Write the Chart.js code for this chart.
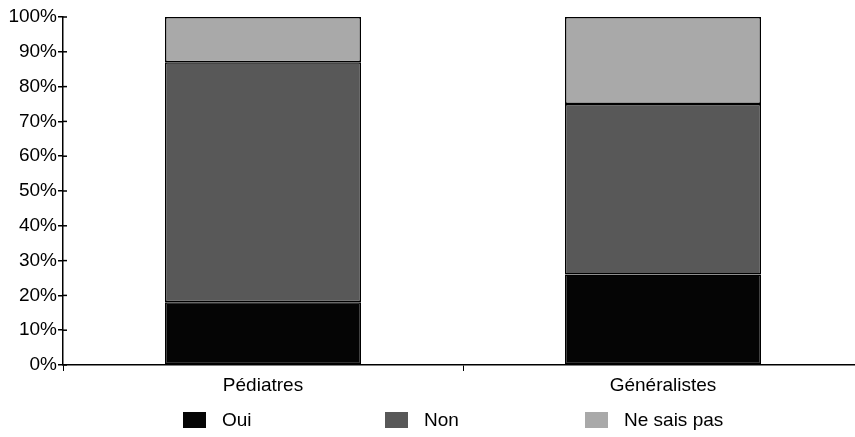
<!DOCTYPE html>
<html>
<head>
<meta charset="utf-8">
<script src="https://cdn.jsdelivr.net/npm/chart.js@4/dist/chart.umd.min.js"></script>
<style>
  html, body { margin: 0; padding: 0; background: #fff; overflow: hidden; width: 855px; height: 437px; }
  #wrap { position: relative; width: 863px; height: 437px; }
  #legend { position: absolute; left: 0; top: 409px; width: 863px; height: 22px; font-family: "Liberation Sans", Arial, sans-serif; font-size: 19px; color: #000; }
  .item { position: absolute; top: 0; height: 22px; line-height: 22px; white-space: nowrap; }
  .box { position: absolute; top: 3px; left: 0; width: 23px; height: 16px; }
  .txt { position: absolute; left: 39px; top: 0; }
</style>
</head>
<body>
<div id="wrap">
  <canvas id="chart" width="863" height="437"></canvas>
  <div id="legend"></div>
</div>
<script>
// data (percent)
const categories = ['Pédiatres', 'Généralistes']
const seriesNames = ['Oui', 'Non', 'Ne sais pas']
const oui = [18, 26]
const non = [69, 49]
const neSaisPas = [13, 25]
const yTicks = [0, 10, 20, 30, 40, 50, 60, 70, 80, 90, 100]

const colours = ['#050505', '#585858', '#a9a9a9']
const legendLeft = [183, 385, 585]

const font = { family: '"Liberation Sans", Arial, sans-serif', size: 19 }

function makeSet(label, data, i) {
  return {
    label: label,
    data: data,
    backgroundColor: colours[i],
    borderColor: '#000',
    borderWidth: 1.5,
    borderSkipped: false,
    barPercentage: 0.49,
    categoryPercentage: 1
  }
}

// small ticks on the inner side of the y axis too
const crossTicks = {
  id: 'crossTicks',
  afterDraw(c) {
    const y = c.scales.y
    const ctx = c.ctx
    ctx.save()
    ctx.strokeStyle = '#000'
    ctx.lineWidth = 1.5
    y.ticks.forEach(t => {
      const py = y.getPixelForValue(t.value)
      ctx.beginPath()
      ctx.moveTo(y.right, py)
      ctx.lineTo(y.right + 4, py)
      ctx.stroke()
    })
    ctx.restore()
  }
}

const chart = new Chart(document.getElementById('chart'), {
  type: 'bar',
  data: {
    labels: categories,
    datasets: [
      makeSet(seriesNames[0], oui, 0),
      makeSet(seriesNames[1], non, 1),
      makeSet(seriesNames[2], neSaisPas, 2)
    ]
  },
  plugins: [crossTicks],
  options: {
    responsive: false,
    animation: false,
    devicePixelRatio: 1,
    layout: { autoPadding: false, padding: { top: 17, right: 0, left: 0, bottom: 0 } },
    plugins: { legend: { display: false }, tooltip: { enabled: false } },
    scales: {
      x: {
        stacked: true,
        offset: true,
        afterFit: s => { s.height = 72 },
        border: { display: true, color: '#000', width: 1.5 },
        grid: { display: true, offset: true, drawOnChartArea: false, drawTicks: true, tickLength: 6, color: '#000', lineWidth: 1 },
        ticks: { color: '#000', font: font, padding: 3 }
      },
      y: {
        stacked: true,
        min: 0,
        max: 100,
        afterFit: s => { s.width = 63 },
        afterBuildTicks: s => { s.ticks = yTicks.map(v => ({ value: v })) },
        border: { display: true, color: '#000', width: 1.5 },
        grid: { display: true, drawOnChartArea: false, drawTicks: true, tickLength: 5, color: '#000', lineWidth: 1.5 },
        ticks: { color: '#000', font: font, padding: 1, callback: v => v + '%' }
      }
    }
  }
})

// legend built from the datasets
const legend = document.getElementById('legend')
chart.data.datasets.forEach((ds, i) => {
  const item = document.createElement('div')
  item.className = 'item'
  item.style.left = legendLeft[i] + 'px'
  const box = document.createElement('div')
  box.className = 'box'
  box.style.background = ds.backgroundColor
  const txt = document.createElement('span')
  txt.className = 'txt'
  txt.textContent = ds.label
  item.appendChild(box)
  item.appendChild(txt)
  legend.appendChild(item)
})
</script>
</body>
</html>
